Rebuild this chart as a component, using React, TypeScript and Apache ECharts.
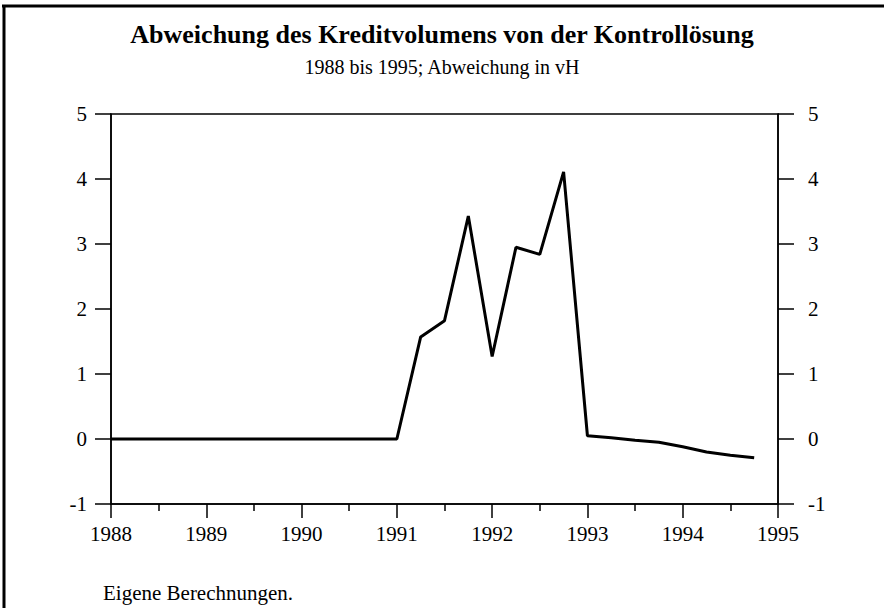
import React, { useEffect, useRef } from "react";
import * as echarts from "echarts";

const titleText = "Abweichung des Kreditvolumens von der Kontrollösung";
const subtitleText = "1988 bis 1995; Abweichung in vH";
const footerText = "Eigene Berechnungen.";

const quarters: number[] = [
  1988, 1988.25, 1988.5, 1988.75,
  1989, 1989.25, 1989.5, 1989.75,
  1990, 1990.25, 1990.5, 1990.75,
  1991, 1991.25, 1991.5, 1991.75,
  1992, 1992.25, 1992.5, 1992.75,
  1993, 1993.25, 1993.5, 1993.75,
  1994, 1994.25, 1994.5, 1994.75,
];
const deviation: number[] = [
  0, 0, 0, 0,
  0, 0, 0, 0,
  0, 0, 0, 0,
  0, 1.57, 1.82, 3.43,
  1.27, 2.95, 2.84, 4.11,
  0.05, 0.02, -0.02, -0.05,
  -0.12, -0.2, -0.25, -0.29,
];
const yearTicks: string[] = ["1988", "1989", "1990", "1991", "1992", "1993", "1994", "1995"];
const valueTicks: string[] = ["-1", "0", "1", "2", "3", "4", "5"];

const FONT = "'Liberation Serif', 'Times New Roman', serif";

export default function App() {
  const ref = useRef<HTMLDivElement>(null);
  useEffect(() => {
    if (!ref.current) return;
    const chart = echarts.init(ref.current, undefined, { renderer: "svg" });
    const yAxisBase = (pos: "left" | "right", margin: number) => ({
      type: "value" as const,
      position: pos,
      min: -1,
      max: 5,
      interval: 1,
      axisLine: { show: true, lineStyle: { color: "#000", width: 1.5 } },
      axisTick: { show: true, length: 16, lineStyle: { color: "#000", width: 1.5 } },
      splitLine: { show: false },
      axisLabel: {
        margin,
        color: "#000",
        fontFamily: FONT,
        fontSize: 21,
        formatter: (v: number) => valueTicks[Math.round(v) + 1] ?? String(v),
      },
    });
    chart.setOption({
      animation: false,
      backgroundColor: "#fff",
      title: {
        text: titleText,
        subtext: subtitleText,
        left: "center",
        top: 16,
        itemGap: 10,
        textStyle: { fontFamily: FONT, fontSize: 26, fontWeight: "bold", color: "#000" },
        subtextStyle: { fontFamily: FONT, fontSize: 20, color: "#000" },
      },
      grid: {
        left: 111,
        right: 106,
        top: 114,
        bottom: 104,
        show: true,
        borderColor: "#000",
        borderWidth: 1.5,
        backgroundColor: "transparent",
      },
      xAxis: {
        type: "value",
        min: 1988,
        max: 1995,
        interval: 1,
        axisLine: { show: true, onZero: false, lineStyle: { color: "#000", width: 1.5 } },
        axisTick: { show: true, length: 14, lineStyle: { color: "#000", width: 1.5 } },
        minorTick: { show: true, splitNumber: 2, length: 7, lineStyle: { color: "#000", width: 1.5 } },
        splitLine: { show: false },
        axisLabel: {
          margin: 19,
          color: "#000",
          fontFamily: FONT,
          fontSize: 21,
          formatter: (v: number) => yearTicks[Math.round(v) - 1988] ?? String(v),
        },
      },
      yAxis: [yAxisBase("left", 24), yAxisBase("right", 30)],
      series: [
        {
          type: "line",
          yAxisIndex: 0,
          data: quarters.map((q, i) => [q, deviation[i]]),
          showSymbol: false,
          lineStyle: { color: "#000", width: 3 },
          z: 3,
        },
      ],
      graphic: [
        { type: "line", shape: { x1: 2, y1: 6, x2: 884, y2: 6 }, style: { stroke: "#000", lineWidth: 3 } },
        { type: "line", shape: { x1: 4, y1: 5, x2: 4, y2: 608 }, style: { stroke: "#000", lineWidth: 3 } },
        {
          type: "text",
          left: 103,
          top: 582,
          style: { text: footerText, fontFamily: FONT, fontSize: 21, fill: "#000" },
        },
      ],
    });
    return () => chart.dispose();
  }, []);
  return <div ref={ref} style={{ position: "fixed", left: 0, top: 0, width: 884, height: 608 }} />;
}
